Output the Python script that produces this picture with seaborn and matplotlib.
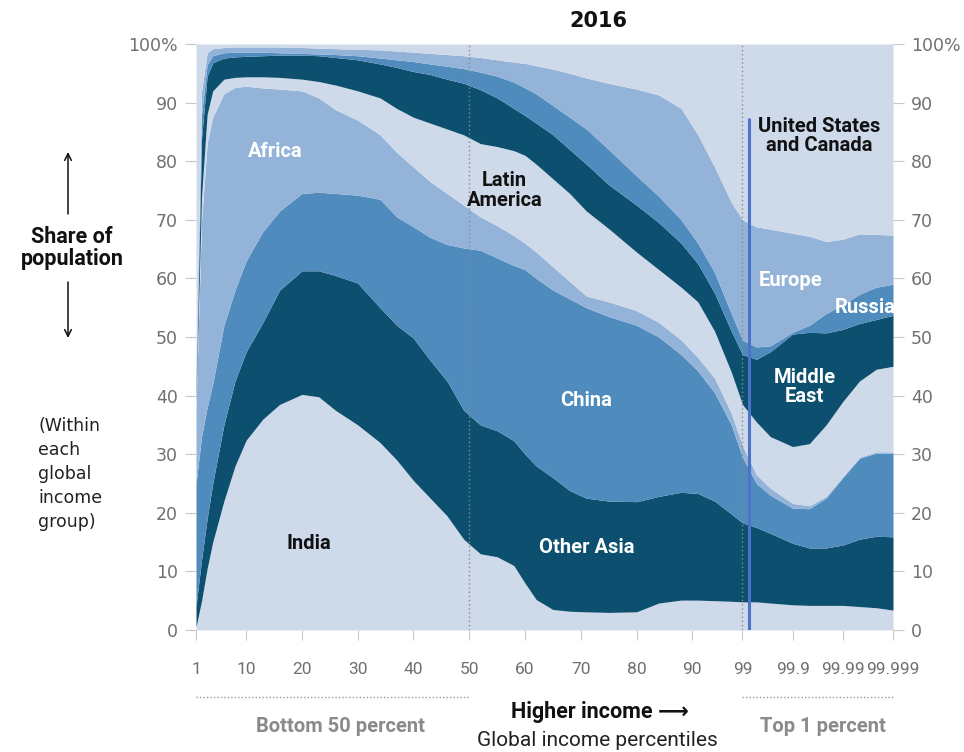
import numpy as np
import matplotlib
matplotlib.use("Agg")
import matplotlib.pyplot as plt
import seaborn as sns

# x positions on the chart's percentile axis (99.9 -> 108, 99.99 -> 117, 99.999 -> 126)
x_pos = [1, 2, 3, 4, 6, 8, 10, 13, 16, 20, 23, 26, 30, 34, 37, 40, 43, 46, 49, 52,
         55, 58, 60, 62, 65, 68, 71, 75, 80, 84, 88, 91, 94, 97, 99,
         101.5, 104, 108, 111, 114, 117, 120, 123, 126]

# cumulative upper edge of each region (share of population, %)
india_top = [0.5, 5, 10.5, 15, 22, 28, 32.4, 36, 38.5, 40.2, 39.8, 37.5, 35, 32, 29, 25.5, 22.5, 19.5, 15.5, 13,
             12.5, 11, 8, 5.2, 3.5, 3.2, 3.1, 3.0, 3.1, 4.6, 5.1, 5.1, 5.0, 4.9, 4.8,
             4.8, 4.6, 4.3, 4.2, 4.2, 4.2, 4.0, 3.8, 3.4]
other_asia_top = [4, 12, 19, 25, 35, 42.5, 47.5, 52.5, 58, 61.3, 61.3, 60.5, 59.2, 55, 52, 49.8, 46, 42.5, 37.5, 35,
                  34, 32.3, 30, 28, 26, 23.8, 22.5, 22, 21.9, 22.8, 23.5, 23.3, 22, 19.8, 18.3,
                  17.5, 16.5, 14.8, 14, 14, 14.5, 15.5, 16, 15.9]
china_top = [25, 33, 38, 42, 52, 58, 63, 68, 71.5, 74.5, 74.7, 74.5, 74.2, 73.5, 70.5, 68.8, 67, 65.8, 65.2, 64.8,
             63.5, 62.2, 61.5, 60, 58, 56.5, 55, 53.5, 52, 50, 47, 44.2, 40.5, 35, 29.5,
             25, 23, 20.8, 20.7, 22.5, 26, 29.3, 30.2, 30.2]
africa_top = [38, 70, 83, 87.5, 91.5, 92.6, 92.8, 92.5, 92.3, 92, 90.8, 88.8, 87, 84.5, 81.5, 79, 76.5, 74.5, 72.5, 70.5,
              69, 67.3, 66, 64.5, 62, 59.5, 57, 56, 54.5, 52.5, 49.5, 46.5, 43, 37, 31.5,
              26.5, 24.2, 21.6, 21.2, 22.8, 26.2, 29.5, 30.4, 30.4]
latin_america_top = [39, 74, 88, 92, 94, 94.3, 94.4, 94.4, 94.3, 94, 93.6, 93, 92, 90.8, 89, 87.5, 86.5, 85.5, 84.5, 83,
                     82.5, 81.8, 81, 79.5, 77, 74.5, 71.5, 68.5, 64.5, 61.5, 58.5, 56, 51, 44, 38.5,
                     35.5, 33, 31.3, 31.8, 35, 39, 42.5, 44.5, 45]
middle_east_top = [40, 84, 94.5, 96.8, 97.6, 97.8, 97.9, 98, 98.1, 98.1, 98, 97.7, 97.3, 96.6, 96, 95.3, 94.8, 94, 93.3, 92.2,
                   90.8, 89, 87.8, 86.5, 84.5, 82, 79.5, 76, 72.5, 69.5, 66, 62.5, 57.5, 51, 47,
                   46.2, 47.5, 50.5, 50.8, 50.7, 51.3, 52.3, 53, 53.7]
russia_top = [42, 88, 96.5, 98, 98.5, 98.6, 98.6, 98.6, 98.5, 98.4, 98.3, 98.2, 98, 97.6, 97.3, 97, 96.6, 96.2, 95.8, 95.2,
              94.5, 93.5, 92.5, 91.5, 89.5, 87.5, 85.5, 82, 77.5, 74, 70, 66, 61, 54, 49.5,
              48.3, 48.5, 50.8, 52, 54, 55.5, 57.3, 58.5, 59]
europe_top = [44, 92, 98.5, 99.2, 99.4, 99.5, 99.5, 99.5, 99.5, 99.4, 99.3, 99.2, 99.1, 99, 98.8, 98.6, 98.4, 98.2, 98, 97.7,
              97.3, 96.9, 96.7, 96.3, 95.7, 95, 94.2, 93.3, 92.3, 91.3, 89, 84.5, 79, 73, 70,
              68.8, 68.4, 67.7, 67.2, 66.3, 66.7, 67.6, 67.5, 67.4]

regions = ["India", "Other Asia", "China", "Africa", "Latin America",
           "Middle East", "Russia", "Europe", "United States and Canada"]

tick_pos = [1, 10, 20, 30, 40, 50, 60, 70, 80, 90, 99, 108, 117, 126]
tick_labels = ["1", "10", "20", "30", "40", "50", "60", "70", "80", "90",
               "99", "99.9", "99.99", "99.999"]
y_ticks = [0, 10, 20, 30, 40, 50, 60, 70, 80, 90, 100]
y_labels = ["0", "10", "20", "30", "40", "50", "60", "70", "80", "90", "100%"]

LIGHT = "#ced9ea"
DARK = "#0c4f6e"
MED = "#4f8bbd"
LMED = "#93b3d8"
colors = [LIGHT, DARK, MED, LMED, LIGHT, DARK, MED, LMED, LIGHT]

sns.set_theme(style="white")
plt.rcParams["font.family"] = ["DejaVu Sans"]
COND = ["Roboto", "DejaVu Sans"]

x = np.array(x_pos, dtype=float)
bounds = np.vstack([np.zeros_like(x), india_top, other_asia_top, china_top, africa_top,
                    latin_america_top, middle_east_top, russia_top, europe_top,
                    np.full_like(x, 100.0)])
shares = np.diff(bounds, axis=0)

fig = plt.figure(figsize=(9.64, 7.52), dpi=100)
ax = fig.add_axes([196 / 964, 122 / 752, 697 / 964, 586 / 752])
ax.stackplot(x, shares, colors=colors, labels=regions, linewidth=0)
ax.set_xlim(1, 126)
ax.set_ylim(0, 100)
for s in ax.spines.values():
    s.set_visible(False)

# ticks
ax.set_xticks(tick_pos)
ax.set_xticklabels(tick_labels, family=COND)
ax.set_yticks(y_ticks)
ax.set_yticklabels(y_labels)
ax.tick_params(axis="x", length=7, width=0.8, color="#c8c8c8", pad=16,
               labelsize=12.5, labelcolor="#707070", direction="out", bottom=True)
ax.tick_params(axis="y", length=8, width=0.8, color="#c8c8c8", pad=5,
               labelsize=12.5, labelcolor="#707070", direction="out",
               left=True, right=True, labelleft=True, labelright=True)

# reference lines
ax.axvline(50, color="#8a8a8a", lw=1, ls=(0, (1, 2)))
ax.axvline(99, color="#8a8a8a", lw=1, ls=(0, (1, 2)))
ax.plot([100.1, 100.1], [0, 87.3], color="#4a73c9", lw=2.2, solid_capstyle="butt")

# region labels
lab = dict(family=COND, fontweight="bold", fontsize=14.5, ha="center", va="center")
ax.text(15.2, 81.6, "Africa", color="white", **lab)
ax.text(56.3, 75.0, "Latin\nAmerica", color="#111111", linespacing=1.05, **lab)
ax.text(71, 39.2, "China", color="white", **lab)
ax.text(71, 14, "Other Asia", color="white", **lab)
ax.text(21.2, 14.7, "India", color="#111111", **lab)
ax.text(112.8, 84.3, "United States\nand Canada", color="#111111", linespacing=1.0, **lab)
ax.text(107.6, 59.7, "Europe", color="white", **lab)
ax.text(121.0, 55.0, "Russia", color="white", **lab)
ax.text(110.2, 41.4, "Middle\nEast", color="white", linespacing=1.0, **lab)

# title
fig.text(598 / 964, 1 - 21 / 752, "2016", ha="center", va="center",
         fontsize=15, fontweight="bold", color="#111111")

# left annotations
fig.text(72 / 964, 1 - 248 / 752, "Share of\npopulation", ha="center", va="center",
         family=COND, fontweight="bold", fontsize=15.5, linespacing=1.0, color="#111111")
fig.text(38 / 964, 1 - 474 / 752, "(Within\neach\nglobal\nincome\ngroup)", ha="left", va="center",
         fontsize=12.5, linespacing=1.43, color="#222222")
arr = dict(arrowstyle="->", color="#111111", lw=1.1, shrinkA=0, shrinkB=0)
fig.add_artist(matplotlib.patches.FancyArrowPatch((68 / 964, 1 - 214 / 752), (68 / 964, 1 - 152 / 752),
                                                  transform=fig.transFigure, mutation_scale=12, **arr))
fig.add_artist(matplotlib.patches.FancyArrowPatch((68 / 964, 1 - 282 / 752), (68 / 964, 1 - 338 / 752),
                                                  transform=fig.transFigure, mutation_scale=12, **arr))

# bottom annotations
y_dot = 1 - 697 / 752
fig.add_artist(matplotlib.lines.Line2D([196 / 964, 469 / 964], [y_dot, y_dot], transform=fig.transFigure,
                                       color="#9a9a9a", lw=1, ls=(0, (1, 1.5))))
fig.add_artist(matplotlib.lines.Line2D([742 / 964, 893 / 964], [y_dot, y_dot], transform=fig.transFigure,
                                       color="#9a9a9a", lw=1, ls=(0, (1, 1.5))))
fig.text(340 / 964, 1 - 727 / 752, "Bottom 50 percent", ha="center", va="center",
         family=COND, fontweight="bold", fontsize=14.5, color="#8a8a8a")
fig.text(823 / 964, 1 - 727 / 752, "Top 1 percent", ha="center", va="center",
         family=COND, fontweight="bold", fontsize=14.5, color="#8a8a8a")
fig.text(600 / 964, 1 - 712 / 752, "Higher income \u27f6", ha="center", va="center",
         family=COND, fontweight="bold", fontsize=15.5, color="#111111")
fig.text(597 / 964, 1 - 740 / 752, "Global income percentiles", ha="center", va="center",
         family=COND, fontsize=15, color="#222222")

fig.savefig("out.png", dpi=100, facecolor="white")
